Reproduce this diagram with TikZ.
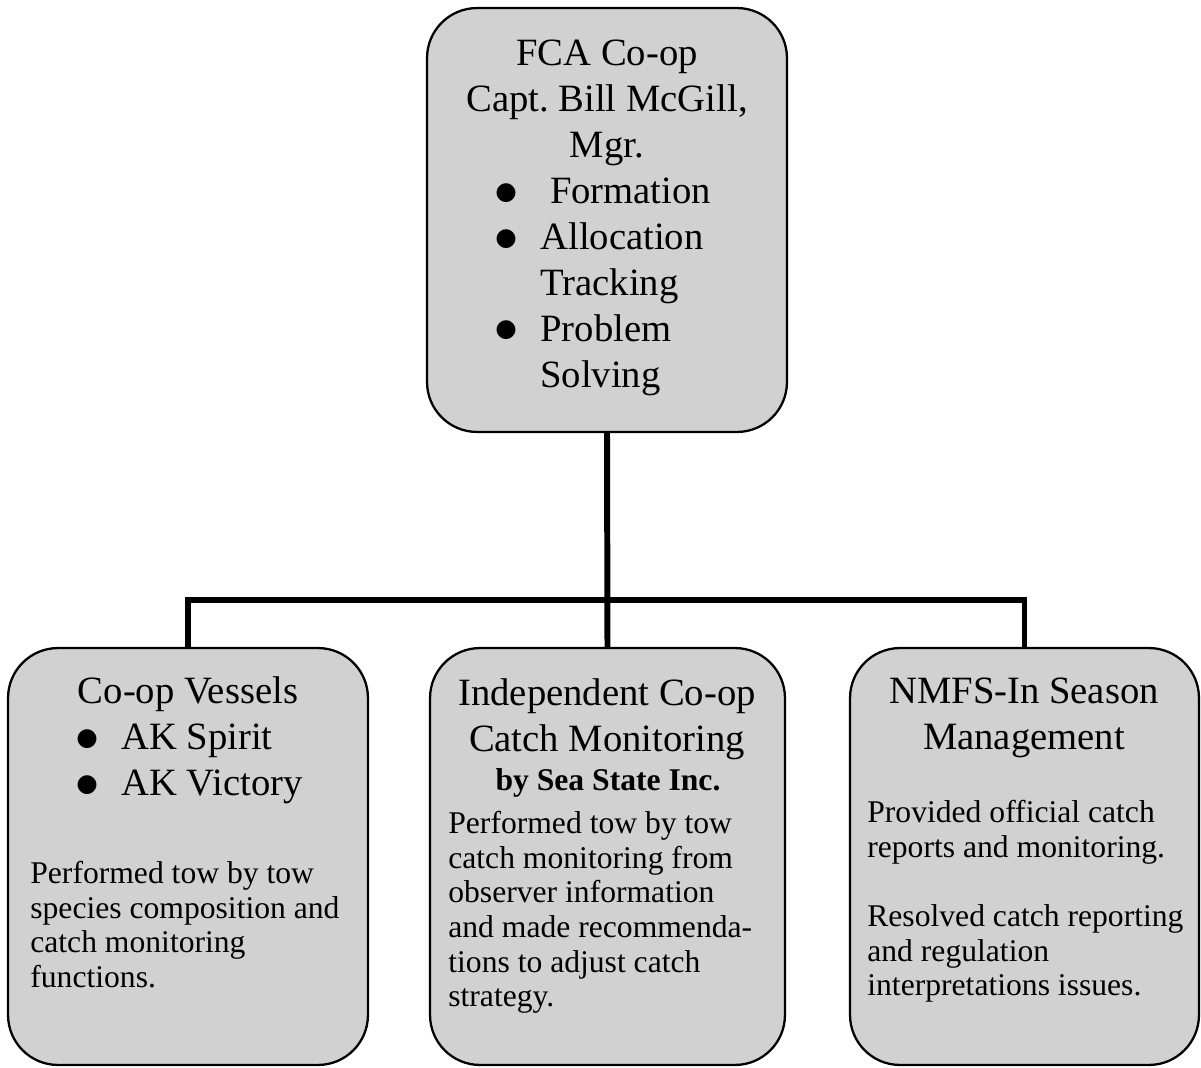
\documentclass[tikz,border=0pt]{standalone}
\usepackage{fontspec}
\setmainfont{Liberation Serif}
\newfontfamily\dotfont{DejaVu Sans}
\usetikzlibrary{positioning}
\definecolor{boxgray}{gray}{0.82}
\newcommand{\bul}{\makebox[0.9cm][l]{\raisebox{0.12em}{\dotfont\fontsize{14}{14}\selectfont ●}}}

\begin{document}
\begin{tikzpicture}[x=0.02cm, y=-0.02cm,
    unit/.style={draw, line width=1.3pt, fill=boxgray, rounded corners=1cm, inner sep=0pt},
    head/.style={font=\fontsize{22}{26.1}\selectfont, align=center, inner sep=0pt, anchor=north},
    bullets/.style={font=\fontsize{22}{26.1}\selectfont, align=left, inner sep=0pt, anchor=north west},
    note/.style={font=\fontsize{18}{19.7}\selectfont, align=left, inner sep=0pt, anchor=north west},
    link/.style={line width=3.4pt}
]
    \useasboundingbox (0,0) rectangle (1201,1068);

    % boxes
    \node[unit, minimum width=7.2cm, minimum height=8.48cm] (coop) at (607,220) {};
    \node[unit, minimum width=7.2cm, minimum height=8.34cm] (vessels) at (188,856.5) {};
    \node[unit, minimum width=7.1cm, minimum height=8.34cm] (monitor) at (607.5,856.5) {};
    \node[unit, minimum width=6.98cm, minimum height=8.34cm] (nmfs) at (1024.5,856.5) {};

    % connectors
    \coordinate (bus) at (607,600);
    \draw[link] (coop.south) -- (monitor.north);
    \draw[link] (vessels.north) |- (bus) -| (nmfs.north);

    % top box
    \node[head] (coop-head) at (607,40) {FCA Co-op\\Capt.\ Bill McGill,\\Mgr.};
    \node[bullets] (coop-list) at (495,178) {\bul\ Formation\\\bul Allocation\\\hspace{0.9cm}Tracking\\\bul Problem\\\hspace{0.9cm}Solving};

    % vessels
    \node[head] (vessels-head) at (188,676) {Co-op Vessels};
    \node[bullets] (vessels-list) at (76,724) {\bul AK Spirit\\\bul AK Victory};
    \node[note] (vessels-note) at (30,861) {Performed tow by tow\\species composition and\\catch monitoring\\functions.};

    % monitoring
    \node[head] (monitor-head) at (607,678) {Independent Co-op\\Catch Monitoring};
    \node[head, font=\fontsize{18}{19.7}\selectfont\bfseries] (monitor-by) at (608,768) {by Sea State Inc.};
    \node[note] (monitor-note) at (448,811) {Performed tow by tow\\catch monitoring from\\observer information\\and made recommenda-\\tions to adjust catch\\strategy.};

    % nmfs
    \node[head] (nmfs-head) at (1024,678) {NMFS-In Season\\Management};
    \node[note] (nmfs-note) at (867,800) {Provided official catch\\reports and monitoring.\\[0.694cm]Resolved catch reporting\\and regulation\\interpretations issues.};
\end{tikzpicture}
\end{document}
